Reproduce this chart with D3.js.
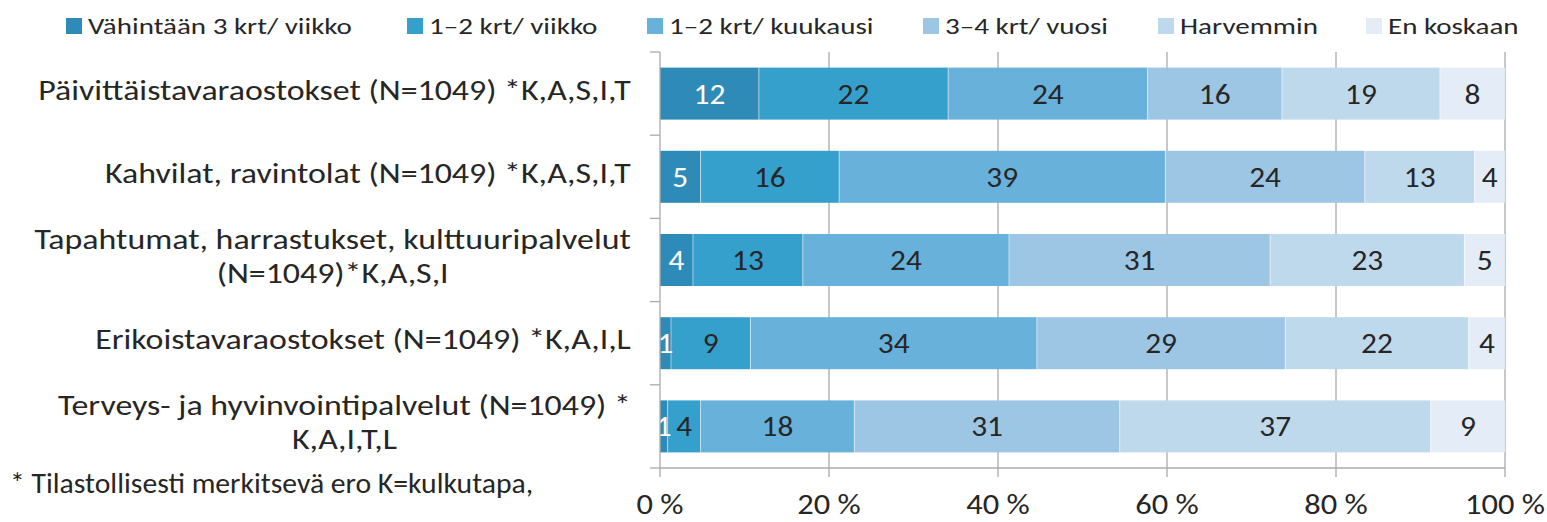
<!DOCTYPE html>
<html><head><meta charset="utf-8">
<script src="https://cdn.jsdelivr.net/npm/d3@7"></script>
<style>body{margin:0;background:#fff} text{font-family:Carlito, Lato, sans-serif; fill:#262626}</style>
</head><body><svg id="c" width="1547" height="522"></svg>
<script>
const categories = [
  ["Päivittäistavaraostokset (N=1049) *K,A,S,I,T"],
  ["Kahvilat, ravintolat (N=1049) *K,A,S,I,T"],
  ["Tapahtumat, harrastukset, kulttuuripalvelut", "(N=1049)*K,A,S,I"],
  ["Erikoistavaraostokset (N=1049) *K,A,I,L"],
  ["Terveys- ja hyvinvointipalvelut (N=1049) *", "K,A,I,T,L"]
];
const seriesNames = ["Vähintään 3 krt/ viikko", "1–2 krt/ viikko", "1–2 krt/ kuukausi", "3–4 krt/ vuosi", "Harvemmin", "En koskaan"];
const vahintaan3krtViikko = [11.7, 4.8, 3.9, 1.3, 0.9];
const krt12Viikko = [22.4, 16.4, 13.0, 9.4, 3.9];
const krt12Kuukausi = [23.6, 38.6, 24.4, 33.9, 18.2];
const krt34Vuosi = [15.9, 23.6, 30.9, 29.4, 31.4];
const harvemmin = [18.7, 13.0, 23.0, 21.7, 36.8];
const enKoskaan = [7.7, 3.6, 4.8, 4.3, 8.8];
const xTicks = [0, 20, 40, 60, 80, 100];
const footnote = "* Tilastollisesti merkitsevä ero K=kulkutapa,";

const colors = ["#2E8BB7", "#36A0CD", "#68B1DA", "#9CC6E4", "#BFD9EC", "#E4EDF7"];
const labelColors = ["#FFFFFF", "#262626", "#262626", "#262626", "#262626", "#262626"];
const seriesValues = [vahintaan3krtViikko, krt12Viikko, krt12Kuukausi, krt34Vuosi, harvemmin, enKoskaan];

const rows = categories.map((c, i) => {
  const r = {idx: i};
  seriesNames.forEach((s, k) => r[s] = seriesValues[k][i]);
  return r;
});

// text styles: size (px) and horizontal stretch
const ST = {
  ylab: {size: 28, sx: 1.21},
  foot: {size: 28, sx: 1.06},
  legend: {size: 22, sx: 1.32},
  tick: {size: 29, sx: 1.12},
  data: {size: 28, sx: 1.12}
};
function tr(x, y, sx) { return `translate(${x},${y}) scale(${sx},1)`; }

const svg = d3.select("#c");
const x = d3.scaleLinear().domain([0, 100]).range([660, 1505]);
const y = d3.scaleBand().domain(d3.range(categories.length)).range([52, 468]).paddingInner(0.375).paddingOuter(0.1875);

// gridlines
svg.append("g").selectAll("line").data(xTicks.filter(t => t > 0)).join("line")
  .attr("x1", d => x(d)).attr("x2", d => x(d)).attr("y1", 52).attr("y2", 468)
  .attr("stroke", "#ABABAB").attr("stroke-width", 1.3);

const stack = d3.stack().keys(seriesNames)(rows);

const g = svg.append("g");
stack.forEach((layer, k) => {
  g.append("g").selectAll("rect").data(layer).join("rect")
    .attr("x", d => x(d[0])).attr("width", d => x(d[1]) - x(d[0]))
    .attr("y", d => y(d.data.idx)).attr("height", y.bandwidth())
    .attr("fill", colors[k]);
});
stack.forEach((layer, k) => {
  if (k === 0) return;
  g.append("g").selectAll("line").data(layer).join("line")
    .attr("x1", d => x(d[0])).attr("x2", d => x(d[0]))
    .attr("y1", d => y(d.data.idx)).attr("y2", d => y(d.data.idx) + y.bandwidth())
    .attr("stroke", "#fff").attr("stroke-opacity", 0.5).attr("stroke-width", 1);
});
stack.forEach((layer, k) => {
  g.append("g").selectAll("text").data(layer).join("text")
    .attr("transform", d => tr((x(d[0]) + x(d[1])) / 2, y(d.data.idx) + y.bandwidth() / 2 + 10, ST.data.sx))
    .attr("text-anchor", "middle")
    .style("font-size", ST.data.size + "px").style("fill", labelColors[k])
    .text(d => Math.round(d[1] - d[0]));
});

// y axis
const yAxis = svg.append("g");
yAxis.append("line").attr("x1", 660).attr("x2", 660).attr("y1", 52).attr("y2", 468)
  .attr("stroke", "#ABABAB").attr("stroke-width", 1.3);
const bandEdges = d3.range(categories.length + 1).map(i => i === 0 ? 52 : (i === categories.length ? 468 : y(i) - y.step() * y.paddingInner() / 2));
yAxis.selectAll("line.t").data(bandEdges).join("line").attr("class", "t")
  .attr("x1", 650).attr("x2", 660).attr("y1", d => d).attr("y2", d => d)
  .attr("stroke", "#ABABAB").attr("stroke-width", 1.3);
categories.forEach((lines, i) => {
  const cy = y(i) + y.bandwidth() / 2;
  const lh = 34;
  const texts = lines.map((ln, j) => yAxis.append("text").attr("text-anchor", "middle")
    .style("font-size", ST.ylab.size + "px").text(ln)
    .datum(cy - 4 + 10 + (j - (lines.length - 1) / 2) * lh));
  const w = d3.max(texts, t => t.node().getComputedTextLength()) * ST.ylab.sx;
  texts.forEach(t => t.attr("transform", tr(631 - w / 2, t.datum(), ST.ylab.sx)));
});

// x axis
const xa = svg.append("g");
xa.append("line").attr("x1", 660).attr("x2", 1505).attr("y1", 468).attr("y2", 468)
  .attr("stroke", "#ABABAB").attr("stroke-width", 1.3);
xa.selectAll("line.t").data(xTicks).join("line").attr("class", "t")
  .attr("x1", d => x(d)).attr("x2", d => x(d)).attr("y1", 468).attr("y2", 477)
  .attr("stroke", "#ABABAB").attr("stroke-width", 1.3);
xa.selectAll("text").data(xTicks).join("text")
  .attr("transform", d => tr(x(d), 514, ST.tick.sx)).attr("text-anchor", "middle")
  .style("font-size", ST.tick.size + "px").text(d => d + " %");

// legend
const legendX = [66, 407, 647, 923, 1158, 1366];
const lg = svg.append("g");
seriesNames.forEach((s, k) => {
  lg.append("rect").attr("x", legendX[k]).attr("y", 18).attr("width", 16).attr("height", 16).attr("fill", colors[k]);
  lg.append("text").attr("transform", tr(legendX[k] + 22, 34, ST.legend.sx))
    .style("font-size", ST.legend.size + "px").text(s);
});

// footnote
svg.append("text").attr("transform", tr(10, 493, ST.foot.sx))
  .style("font-size", ST.foot.size + "px").text(footnote);
</script></body></html>
